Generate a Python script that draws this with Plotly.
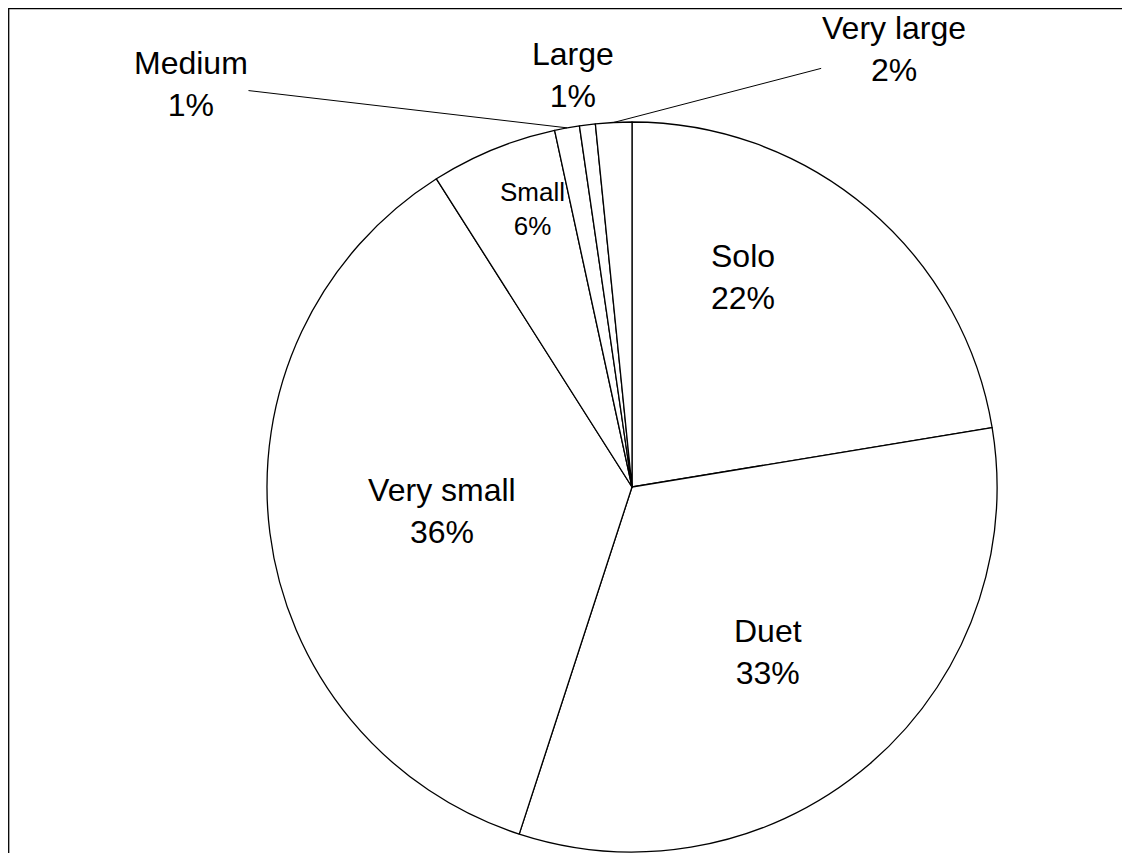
import math

import plotly.graph_objects as go

# slice values, clockwise from 12 o'clock
labels = ["Solo", "Duet", "Very small", "Small", "Medium", "Large", "Very large"]
values = [22.4, 32.6, 36.0, 5.6, 1.1, 0.7, 1.6]

# labels placed by hand: (dx, dy offset in px, leader line?, anchor, font size)
# anchor is the slice's mid point on the rim, or the pie centre for inner labels
placed = {
    "Solo": (111, -210, False, "centre", 32),
    "Duet": (136, 165, False, "centre", 32),
    "Small": (-100, -278, False, "centre", 26),
    "Medium": (-376, -44, True, "rim", 32),
    "Large": (-14, -50, False, "rim", 32),
    "Very large": (280, -73, True, "rim", 32),
}

W, H = 1130, 853
FONT = "Liberation Sans, Arial, sans-serif"

# pie placement in pixels (centre and radius)
cx_px, cy_px, r_px = 624, 479, 365
dom_x = [(cx_px - r_px) / W, (cx_px + r_px) / W]
dom_y = [1 - (cy_px + r_px) / H, 1 - (cy_px - r_px) / H]

fig = go.Figure(
    go.Pie(
        labels=labels,
        values=values,
        sort=False,
        direction="clockwise",
        rotation=0,
        domain={"x": dom_x, "y": dom_y},
        marker={"colors": ["white"] * len(labels), "line": {"color": "black", "width": 1.3}},
        texttemplate="%{label}<br>%{percent:.0%}",
        textposition=["none" if l in placed else "inside" for l in labels],
        insidetextorientation="horizontal",
        textfont={"family": FONT, "size": 32, "color": "black"},
        showlegend=False,
        hoverinfo="label+percent",
    )
)

# hand-placed labels, anchored at each slice's mid angle or the centre
total = sum(values)
cx, cy = sum(dom_x) / 2, sum(dom_y) / 2
rx, ry = r_px / W, r_px / H
start = 0.0
annotations = []
for lab, val in zip(labels, values):
    mid = math.radians((start + val / 2) / total * 360)
    start += val
    if lab not in placed:
        continue
    dx, dy, line, anchor, size = placed[lab]
    if anchor == "rim":
        x, y = cx + rx * math.sin(mid), cy + ry * math.cos(mid)
    else:
        x, y = cx, cy
    annotations.append(
        dict(
            x=x,
            y=y,
            xref="paper",
            yref="paper",
            text=f"{lab}<br>{val / total:.0%}",
            showarrow=True,
            arrowhead=0,
            arrowwidth=1,
            arrowcolor="black" if line else "rgba(0,0,0,0)",
            ax=dx,
            ay=dy,
            standoff=0,
            borderpad=0,
            font={"family": FONT, "size": size, "color": "black"},
        )
    )

fig.update_layout(
    width=W,
    height=H,
    margin={"l": 0, "r": 0, "t": 0, "b": 0},
    paper_bgcolor="white",
    plot_bgcolor="white",
    annotations=annotations,
    shapes=[
        dict(
            type="rect",
            xref="paper",
            yref="paper",
            x0=0.7 / W,
            x1=1.05,
            y0=-0.05,
            y1=1 - 0.7 / H,
            line={"color": "black", "width": 1.3},
        )
    ],
)

fig.write_html("out.html")
